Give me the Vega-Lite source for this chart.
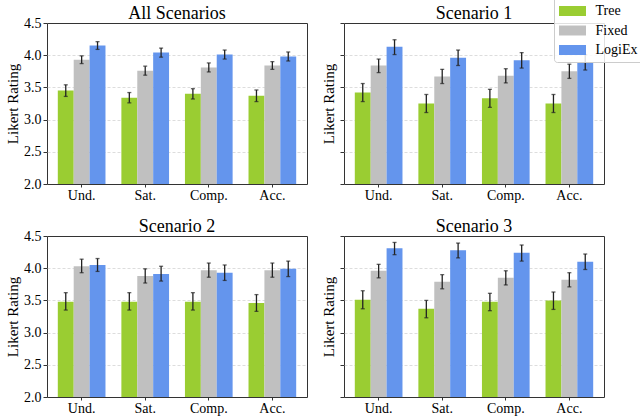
{
  "$schema": "https://vega.github.io/schema/vega-lite/v6.json",
  "padding": {"left": 5, "top": -5, "right": 0, "bottom": 0},
  "spacing": {"row": 14, "column": 13},
  "config": {
    "font": "Liberation Serif",
    "view": {"stroke": "#333", "strokeWidth": 1},
    "title": {"fontSize": 18, "fontWeight": "normal", "color": "#000", "offset": -7},
    "axis": {"labelFontSize": 14, "titleFontSize": 15, "titleFontWeight": "normal", "labelColor": "#000", "titleColor": "#000", "tickColor": "#333", "domain": false}
  },
  "datasets": {
    "d": [
      {"s": "All Scenarios", "m": "Und.", "g": "Tree", "v": 3.45, "lo": 3.36, "hi": 3.54},
      {"s": "All Scenarios", "m": "Und.", "g": "Fixed", "v": 3.93, "lo": 3.87, "hi": 3.99},
      {"s": "All Scenarios", "m": "Und.", "g": "LogiEx", "v": 4.15, "lo": 4.09, "hi": 4.21},
      {"s": "All Scenarios", "m": "Sat.", "g": "Tree", "v": 3.34, "lo": 3.26, "hi": 3.42},
      {"s": "All Scenarios", "m": "Sat.", "g": "Fixed", "v": 3.76, "lo": 3.69, "hi": 3.83},
      {"s": "All Scenarios", "m": "Sat.", "g": "LogiEx", "v": 4.04, "lo": 3.97, "hi": 4.11},
      {"s": "All Scenarios", "m": "Comp.", "g": "Tree", "v": 3.4, "lo": 3.32, "hi": 3.48},
      {"s": "All Scenarios", "m": "Comp.", "g": "Fixed", "v": 3.81, "lo": 3.74, "hi": 3.88},
      {"s": "All Scenarios", "m": "Comp.", "g": "LogiEx", "v": 4.01, "lo": 3.94, "hi": 4.08},
      {"s": "All Scenarios", "m": "Acc.", "g": "Tree", "v": 3.37, "lo": 3.28, "hi": 3.46},
      {"s": "All Scenarios", "m": "Acc.", "g": "Fixed", "v": 3.84, "lo": 3.78, "hi": 3.9},
      {"s": "All Scenarios", "m": "Acc.", "g": "LogiEx", "v": 3.98, "lo": 3.91, "hi": 4.05},

      {"s": "Scenario 1", "m": "Und.", "g": "Tree", "v": 3.42, "lo": 3.28, "hi": 3.56},
      {"s": "Scenario 1", "m": "Und.", "g": "Fixed", "v": 3.84, "lo": 3.73, "hi": 3.94},
      {"s": "Scenario 1", "m": "Und.", "g": "LogiEx", "v": 4.13, "lo": 4.01, "hi": 4.24},
      {"s": "Scenario 1", "m": "Sat.", "g": "Tree", "v": 3.25, "lo": 3.11, "hi": 3.39},
      {"s": "Scenario 1", "m": "Sat.", "g": "Fixed", "v": 3.67, "lo": 3.56, "hi": 3.78},
      {"s": "Scenario 1", "m": "Sat.", "g": "LogiEx", "v": 3.96, "lo": 3.84, "hi": 4.08},
      {"s": "Scenario 1", "m": "Comp.", "g": "Tree", "v": 3.33, "lo": 3.19, "hi": 3.47},
      {"s": "Scenario 1", "m": "Comp.", "g": "Fixed", "v": 3.68, "lo": 3.57, "hi": 3.79},
      {"s": "Scenario 1", "m": "Comp.", "g": "LogiEx", "v": 3.92, "lo": 3.8, "hi": 4.04},
      {"s": "Scenario 1", "m": "Acc.", "g": "Tree", "v": 3.25, "lo": 3.11, "hi": 3.39},
      {"s": "Scenario 1", "m": "Acc.", "g": "Fixed", "v": 3.75, "lo": 3.64, "hi": 3.86},
      {"s": "Scenario 1", "m": "Acc.", "g": "LogiEx", "v": 3.89, "lo": 3.77, "hi": 4.01},

      {"s": "Scenario 2", "m": "Und.", "g": "Tree", "v": 3.48, "lo": 3.35, "hi": 3.62},
      {"s": "Scenario 2", "m": "Und.", "g": "Fixed", "v": 4.03, "lo": 3.93, "hi": 4.14},
      {"s": "Scenario 2", "m": "Und.", "g": "LogiEx", "v": 4.05, "lo": 3.95, "hi": 4.15},
      {"s": "Scenario 2", "m": "Sat.", "g": "Tree", "v": 3.48, "lo": 3.35, "hi": 3.62},
      {"s": "Scenario 2", "m": "Sat.", "g": "Fixed", "v": 3.88, "lo": 3.77, "hi": 3.99},
      {"s": "Scenario 2", "m": "Sat.", "g": "LogiEx", "v": 3.91, "lo": 3.8, "hi": 4.03},
      {"s": "Scenario 2", "m": "Comp.", "g": "Tree", "v": 3.48, "lo": 3.35, "hi": 3.62},
      {"s": "Scenario 2", "m": "Comp.", "g": "Fixed", "v": 3.97, "lo": 3.86, "hi": 4.08},
      {"s": "Scenario 2", "m": "Comp.", "g": "LogiEx", "v": 3.93, "lo": 3.81, "hi": 4.05},
      {"s": "Scenario 2", "m": "Acc.", "g": "Tree", "v": 3.46, "lo": 3.33, "hi": 3.59},
      {"s": "Scenario 2", "m": "Acc.", "g": "Fixed", "v": 3.97, "lo": 3.86, "hi": 4.08},
      {"s": "Scenario 2", "m": "Acc.", "g": "LogiEx", "v": 3.99, "lo": 3.87, "hi": 4.11},

      {"s": "Scenario 3", "m": "Und.", "g": "Tree", "v": 3.51, "lo": 3.37, "hi": 3.65},
      {"s": "Scenario 3", "m": "Und.", "g": "Fixed", "v": 3.96, "lo": 3.85, "hi": 4.06},
      {"s": "Scenario 3", "m": "Und.", "g": "LogiEx", "v": 4.31, "lo": 4.21, "hi": 4.4},
      {"s": "Scenario 3", "m": "Sat.", "g": "Tree", "v": 3.37, "lo": 3.23, "hi": 3.5},
      {"s": "Scenario 3", "m": "Sat.", "g": "Fixed", "v": 3.79, "lo": 3.68, "hi": 3.9},
      {"s": "Scenario 3", "m": "Sat.", "g": "LogiEx", "v": 4.28, "lo": 4.16, "hi": 4.39},
      {"s": "Scenario 3", "m": "Comp.", "g": "Tree", "v": 3.48, "lo": 3.34, "hi": 3.61},
      {"s": "Scenario 3", "m": "Comp.", "g": "Fixed", "v": 3.85, "lo": 3.74, "hi": 3.96},
      {"s": "Scenario 3", "m": "Comp.", "g": "LogiEx", "v": 4.24, "lo": 4.11, "hi": 4.36},
      {"s": "Scenario 3", "m": "Acc.", "g": "Tree", "v": 3.5, "lo": 3.36, "hi": 3.63},
      {"s": "Scenario 3", "m": "Acc.", "g": "Fixed", "v": 3.82, "lo": 3.71, "hi": 3.93},
      {"s": "Scenario 3", "m": "Acc.", "g": "LogiEx", "v": 4.1, "lo": 3.98, "hi": 4.22}
    ]
  },
  "columns": 2,
  "concat": [
    {
      "width": 260, "height": 161,
      "title": "All Scenarios",
      "data": {"name": "d"},
      "transform": [{"filter": "datum.s === 'All Scenarios'"}],
      "encoding": {
        "x": {"field": "m", "type": "nominal", "sort": ["Und.", "Sat.", "Comp.", "Acc."], "scale": {"paddingInner": 0.25, "paddingOuter": 0.17}, "axis": {"title": null, "labelAngle": 0, "tickSize": 3, "labelPadding": 1}},
        "xOffset": {"field": "g", "type": "nominal", "sort": ["Tree", "Fixed", "LogiEx"], "scale": {"paddingInner": 0, "paddingOuter": 0}},
        "y": {"type": "quantitative", "title": "Likert Rating", "scale": {"domain": [2, 4.5], "zero": false}, "axis": {"values": [2, 2.5, 3, 3.5, 4, 4.5], "format": ".1f", "labelOverlap": false, "tickSize": 4, "labelPadding": 2, "titlePadding": 3, "gridDash": [3, 2], "gridColor": "#ddd", "gridOpacity": {"condition": {"test": "datum.value <= 2 || datum.value >= 4.5", "value": 0}, "value": 1}}}
      },
      "layer": [
        {"mark": {"type": "bar"}, "encoding": {
          "y": {"field": "v"},
          "y2": {"datum": 2},
          "color": {"field": "g", "type": "nominal", "sort": ["Tree", "Fixed", "LogiEx"], "scale": {"domain": ["Tree", "Fixed", "LogiEx"], "range": ["#9ACD32", "#C0C0C0", "#6495ED"]},
            "legend": {"orient": "none", "legendX": 507, "legendY": -27, "title": null, "symbolType": "M-1.35,-0.5H1.35V0.5H-1.35Z", "symbolSize": 400, "symbolStrokeWidth": 0, "symbolOffset": 3.5, "labelOffset": 13, "labelFontSize": 14, "labelColor": "#000", "padding": 5, "rowPadding": 2.5, "strokeColor": "#ccc", "fillColor": "rgba(255,255,255,0.85)", "cornerRadius": 3}}
        }},
        {"mark": {"type": "rule", "color": "#222", "strokeWidth": 1.3}, "encoding": {"y": {"field": "lo"}, "y2": {"field": "hi"}}},
        {"mark": {"type": "tick", "color": "#222", "size": 4, "thickness": 1.3}, "encoding": {"y": {"field": "lo"}}},
        {"mark": {"type": "tick", "color": "#222", "size": 4, "thickness": 1.3}, "encoding": {"y": {"field": "hi"}}}
      ]
    },
    {
      "width": 260, "height": 161,
      "title": {"text": "Scenario 1", "offset": 0},
      "data": {"name": "d"},
      "transform": [{"filter": "datum.s === 'Scenario 1'"}],
      "encoding": {
        "x": {"field": "m", "type": "nominal", "sort": ["Und.", "Sat.", "Comp.", "Acc."], "scale": {"paddingInner": 0.25, "paddingOuter": 0.17}, "axis": {"title": null, "labelAngle": 0, "tickSize": 3, "labelPadding": 1}},
        "xOffset": {"field": "g", "type": "nominal", "sort": ["Tree", "Fixed", "LogiEx"], "scale": {"paddingInner": 0, "paddingOuter": 0}},
        "y": {"type": "quantitative", "title": "Likert Rating", "scale": {"domain": [2, 4.5], "zero": false}, "axis": {"values": [2, 2.5, 3, 3.5, 4, 4.5], "labels": false, "tickSize": 4, "titlePadding": 3, "gridDash": [3, 2], "gridColor": "#ddd", "gridOpacity": {"condition": {"test": "datum.value <= 2 || datum.value >= 4.5", "value": 0}, "value": 1}}}
      },
      "layer": [
        {"mark": {"type": "bar"}, "encoding": {
          "y": {"field": "v"},
          "y2": {"datum": 2},
          "color": {"field": "g", "type": "nominal", "sort": ["Tree", "Fixed", "LogiEx"], "scale": {"domain": ["Tree", "Fixed", "LogiEx"], "range": ["#9ACD32", "#C0C0C0", "#6495ED"]}}
        }},
        {"mark": {"type": "rule", "color": "#222", "strokeWidth": 1.3}, "encoding": {"y": {"field": "lo"}, "y2": {"field": "hi"}}},
        {"mark": {"type": "tick", "color": "#222", "size": 4, "thickness": 1.3}, "encoding": {"y": {"field": "lo"}}},
        {"mark": {"type": "tick", "color": "#222", "size": 4, "thickness": 1.3}, "encoding": {"y": {"field": "hi"}}}
      ]
    },
    {
      "width": 260, "height": 161,
      "title": "Scenario 2",
      "data": {"name": "d"},
      "transform": [{"filter": "datum.s === 'Scenario 2'"}],
      "encoding": {
        "x": {"field": "m", "type": "nominal", "sort": ["Und.", "Sat.", "Comp.", "Acc."], "scale": {"paddingInner": 0.25, "paddingOuter": 0.17}, "axis": {"title": null, "labelAngle": 0, "tickSize": 3, "labelPadding": 1}},
        "xOffset": {"field": "g", "type": "nominal", "sort": ["Tree", "Fixed", "LogiEx"], "scale": {"paddingInner": 0, "paddingOuter": 0}},
        "y": {"type": "quantitative", "title": "Likert Rating", "scale": {"domain": [2, 4.5], "zero": false}, "axis": {"values": [2, 2.5, 3, 3.5, 4, 4.5], "format": ".1f", "labelOverlap": false, "tickSize": 4, "labelPadding": 2, "titlePadding": 3, "gridDash": [3, 2], "gridColor": "#ddd", "gridOpacity": {"condition": {"test": "datum.value <= 2 || datum.value >= 4.5", "value": 0}, "value": 1}}}
      },
      "layer": [
        {"mark": {"type": "bar"}, "encoding": {
          "y": {"field": "v"},
          "y2": {"datum": 2},
          "color": {"field": "g", "type": "nominal", "sort": ["Tree", "Fixed", "LogiEx"], "scale": {"domain": ["Tree", "Fixed", "LogiEx"], "range": ["#9ACD32", "#C0C0C0", "#6495ED"]}}
        }},
        {"mark": {"type": "rule", "color": "#222", "strokeWidth": 1.3}, "encoding": {"y": {"field": "lo"}, "y2": {"field": "hi"}}},
        {"mark": {"type": "tick", "color": "#222", "size": 4, "thickness": 1.3}, "encoding": {"y": {"field": "lo"}}},
        {"mark": {"type": "tick", "color": "#222", "size": 4, "thickness": 1.3}, "encoding": {"y": {"field": "hi"}}}
      ]
    },
    {
      "width": 260, "height": 161,
      "title": {"text": "Scenario 3", "offset": 0},
      "data": {"name": "d"},
      "transform": [{"filter": "datum.s === 'Scenario 3'"}],
      "encoding": {
        "x": {"field": "m", "type": "nominal", "sort": ["Und.", "Sat.", "Comp.", "Acc."], "scale": {"paddingInner": 0.25, "paddingOuter": 0.17}, "axis": {"title": null, "labelAngle": 0, "tickSize": 3, "labelPadding": 1}},
        "xOffset": {"field": "g", "type": "nominal", "sort": ["Tree", "Fixed", "LogiEx"], "scale": {"paddingInner": 0, "paddingOuter": 0}},
        "y": {"type": "quantitative", "title": "Likert Rating", "scale": {"domain": [2, 4.5], "zero": false}, "axis": {"values": [2, 2.5, 3, 3.5, 4, 4.5], "labels": false, "tickSize": 4, "titlePadding": 3, "gridDash": [3, 2], "gridColor": "#ddd", "gridOpacity": {"condition": {"test": "datum.value <= 2 || datum.value >= 4.5", "value": 0}, "value": 1}}}
      },
      "layer": [
        {"mark": {"type": "bar"}, "encoding": {
          "y": {"field": "v"},
          "y2": {"datum": 2},
          "color": {"field": "g", "type": "nominal", "sort": ["Tree", "Fixed", "LogiEx"], "scale": {"domain": ["Tree", "Fixed", "LogiEx"], "range": ["#9ACD32", "#C0C0C0", "#6495ED"]}}
        }},
        {"mark": {"type": "rule", "color": "#222", "strokeWidth": 1.3}, "encoding": {"y": {"field": "lo"}, "y2": {"field": "hi"}}},
        {"mark": {"type": "tick", "color": "#222", "size": 4, "thickness": 1.3}, "encoding": {"y": {"field": "lo"}}},
        {"mark": {"type": "tick", "color": "#222", "size": 4, "thickness": 1.3}, "encoding": {"y": {"field": "hi"}}}
      ]
    }
  ]
}
